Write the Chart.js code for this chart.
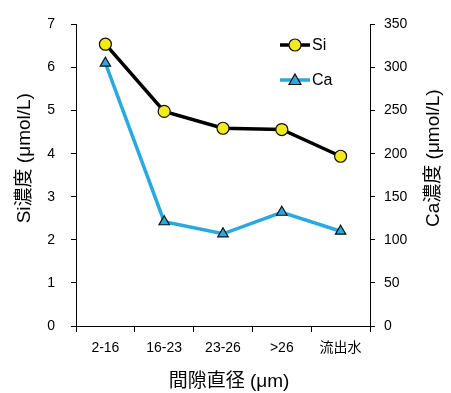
<!DOCTYPE html>
<html>
<head>
<meta charset="utf-8">
<script src="https://cdn.jsdelivr.net/npm/chart.js@4.4.1/dist/chart.umd.min.js"></script>
<style>
  html, body { margin: 0; padding: 0; background: #fff; }
  #wrap { width: 451px; height: 393px; }
</style>
</head>
<body>
<div id="wrap"><canvas id="chart" width="451" height="393"></canvas></div>
<script>
const categories = ['2-16', '16-23', '23-26', '>26', '流出水'];
const siValues = [6.54, 4.98, 4.59, 4.56, 3.94];
const caValues = [305, 121, 107, 132, 110];

const FONT = '"Liberation Sans", "Noto Sans CJK JP", sans-serif';
const BLUE = '#29a9e0';
const YELLOW = '#f3ea1c';

// axis titles + legend drawn by hand (excel-style placement)
const extras = {
    id: 'extras',
    afterDraw(chart) {
        const ctx = chart.ctx, a = chart.chartArea;
        const midY = (a.top + a.bottom) / 2 - 17;
        ctx.save();
        ctx.fillStyle = '#000';
        ctx.font = '19px ' + FONT;
        ctx.textAlign = 'center';
        ctx.textBaseline = 'middle';

        ctx.save();
        ctx.translate(25, midY);
        ctx.rotate(-Math.PI / 2);
        ctx.fillText('Si濃度 (μmol/L)', 0, 0);
        ctx.restore();

        ctx.save();
        ctx.translate(434, midY);
        ctx.rotate(-Math.PI / 2);
        ctx.fillText('Ca濃度 (μmol/L)', 0, 0);
        ctx.restore();

        ctx.fillText('間隙直径 (μm)', (a.left + a.right) / 2 + 6, 382);

        // legend
        const lx = 280, items = [
            { y: 45, color: '#000', fill: YELLOW, shape: 'circle', label: 'Si' },
            { y: 80, color: BLUE, fill: BLUE, shape: 'triangle', label: 'Ca' }
        ];
        items.forEach(it => {
            ctx.strokeStyle = it.color;
            ctx.lineWidth = 3.5;
            ctx.beginPath();
            ctx.moveTo(lx, it.y);
            ctx.lineTo(lx + 30, it.y);
            ctx.stroke();
            ctx.lineWidth = 1.2;
            ctx.strokeStyle = '#111';
            ctx.fillStyle = it.fill;
            ctx.beginPath();
            if (it.shape === 'circle') {
                ctx.arc(lx + 15, it.y, 6, 0, Math.PI * 2);
            } else {
                ctx.moveTo(lx + 15, it.y - 6);
                ctx.lineTo(lx + 21, it.y + 4.5);
                ctx.lineTo(lx + 9, it.y + 4.5);
                ctx.closePath();
            }
            ctx.fill();
            ctx.stroke();
            ctx.fillStyle = '#000';
            ctx.font = '16px ' + FONT;
            ctx.textAlign = 'left';
            ctx.fillText(it.label, lx + 32, it.y + 1);
        });
        ctx.restore();
    }
};

new Chart(document.getElementById('chart'), {
    type: 'line',
    data: {
        labels: categories,
        datasets: [
            {
                label: 'Si', data: siValues, yAxisID: 'y',
                borderColor: '#000', borderWidth: 3.5,
                pointStyle: 'circle', pointRadius: 6, pointBorderWidth: 1.2,
                pointBackgroundColor: YELLOW, pointBorderColor: '#111'
            },
            {
                label: 'Ca', data: caValues, yAxisID: 'y1',
                borderColor: BLUE, borderWidth: 3.5,
                pointStyle: 'triangle', pointRadius: 6, pointBorderWidth: 1.2,
                pointBackgroundColor: BLUE, pointBorderColor: '#111'
            }
        ]
    },
    options: {
        responsive: false,
        animation: false,
        layout: { padding: { top: 22, left: 0, right: 0, bottom: 0 } },
        plugins: { legend: { display: false }, tooltip: { enabled: false } },
        scales: {
            x: {
                offset: true,
                grid: { offset: true, drawOnChartArea: false, tickLength: 6, color: '#000' },
                border: { color: '#000', width: 1 },
                ticks: { color: '#000', font: { family: FONT, size: 14 }, padding: 8, maxRotation: 0 },
                afterFit(s) { s.height = 67; }
            },
            y: {
                position: 'left', min: 0, max: 7,
                grid: { drawOnChartArea: false, tickLength: 5, color: '#000' },
                border: { color: '#000', width: 1 },
                ticks: { stepSize: 1, color: '#000', font: { family: FONT, size: 14 }, padding: 16 },
                afterFit(s) { s.width = 76; }
            },
            y1: {
                position: 'right', min: 0, max: 350,
                grid: { drawOnChartArea: false, tickLength: 5, color: '#000' },
                border: { color: '#000', width: 1 },
                ticks: { stepSize: 50, color: '#000', font: { family: FONT, size: 14 }, padding: 9 },
                afterFit(s) { s.width = 81; }
            }
        }
    },
    plugins: [extras]
});
</script>
</body>
</html>
